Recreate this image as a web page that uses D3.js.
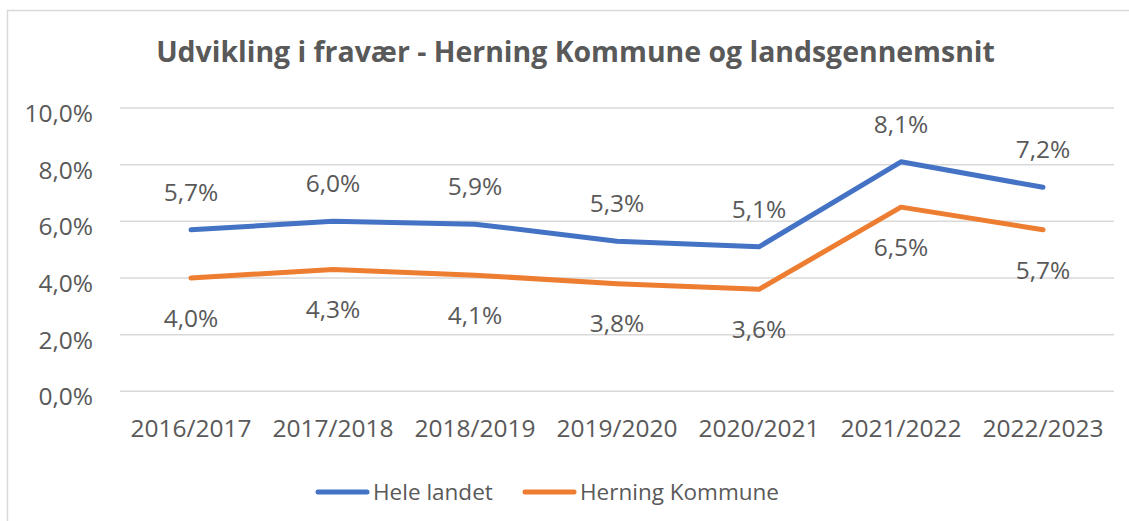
<!DOCTYPE html>
<html>
<head>
<meta charset="utf-8">
<script src="https://cdn.jsdelivr.net/npm/d3@7"></script>
<style>
  body { margin: 0; background: #fff; }
  text { font-family: "Open Sans", sans-serif; fill: #595959; }
</style>
</head>
<body>
<div id="chart"></div>
<script>
// data
var years = ["2016/2017", "2017/2018", "2018/2019", "2019/2020", "2020/2021", "2021/2022", "2022/2023"];
var heleLandet = [5.7, 6.0, 5.9, 5.3, 5.1, 8.1, 7.2];
var herning = [4.0, 4.3, 4.1, 3.8, 3.6, 6.5, 5.7];
var yTicks = [0, 2, 4, 6, 8, 10];
var seriesNames = ["Hele landet", "Herning Kommune"];
var colors = ["#4472C4", "#ED7D31"];

var width = 1129, height = 521;
var margin = {top: 108, right: 15, bottom: 130, left: 120};

var svg = d3.select("#chart")
  .append("svg")
    .attr("width", width)
    .attr("height", height);

// chart border (only left / top visible in the crop)
svg.append("rect")
    .attr("x", 7.5).attr("y", 10.5)
    .attr("width", 1140).attr("height", 540)
    .attr("fill", "none")
    .attr("stroke", "#d9d9d9")
    .attr("stroke-width", 1.5);

var x = d3.scaleBand()
    .domain(years)
    .range([margin.left, 1114]);

var y = d3.scaleLinear()
    .domain([0, 10])
    .range([391.3, margin.top]);

var fmt = function(v) { return d3.format(".1f")(v).replace(".", ",") + "%"; };

// title - fit to width from the picture
var title = svg.append("text")
    .attr("x", 575.5)
    .attr("y", 62)
    .attr("text-anchor", "middle")
    .style("font-weight", "bold")
    .style("font-size", "30px")
    .text("Udvikling i fravær - Herning Kommune og landsgennemsnit");
var tw = title.node().getComputedTextLength();
title.style("font-size", (30 * 839 / tw) + "px");

// gridlines
svg.append("g")
  .selectAll("line")
  .data(yTicks)
  .enter()
  .append("line")
    .attr("x1", margin.left)
    .attr("x2", 1114)
    .attr("y1", function(d) { return y(d); })
    .attr("y2", function(d) { return y(d); })
    .attr("stroke", "#d9d9d9")
    .attr("stroke-width", 1.5);

// y axis labels
svg.append("g")
  .selectAll("text")
  .data(yTicks)
  .enter()
  .append("text")
    .attr("x", 93)
    .attr("y", function(d) { return y(d) + 14; })
    .attr("text-anchor", "end")
    .style("font-size", "24.5px")
    .text(function(d) { return fmt(d); });

// x axis labels
svg.append("g")
  .selectAll("text")
  .data(years)
  .enter()
  .append("text")
    .attr("x", function(d) { return x(d) + x.bandwidth() / 2; })
    .attr("y", 437)
    .attr("text-anchor", "middle")
    .style("font-size", "24.5px")
    .text(function(d) { return d; });

var line = d3.line()
    .x(function(d, i) { return x(years[i]) + x.bandwidth() / 2; })
    .y(function(d) { return y(d); });

var series = [heleLandet, herning];
var labelOffset = [-38, 40];

series.forEach(function(vals, s) {
  svg.append("path")
      .datum(vals)
      .attr("fill", "none")
      .attr("stroke", colors[s])
      .attr("stroke-width", 5)
      .attr("stroke-linecap", "round")
      .attr("stroke-linejoin", "round")
      .attr("d", line);

  svg.append("g")
    .selectAll("text")
    .data(vals)
    .enter()
    .append("text")
      .attr("x", function(d, i) { return x(years[i]) + x.bandwidth() / 2; })
      .attr("y", function(d) { return y(d) + labelOffset[s] + 8.8; })
      .attr("text-anchor", "middle")
      .style("font-size", "24.5px")
      .text(function(d) { return fmt(d); });
});

// legend
var legendX = [318, 525];
var legend = svg.append("g")
  .selectAll("g")
  .data(seriesNames)
  .enter()
  .append("g")
    .attr("transform", function(d, i) { return "translate(" + legendX[i] + ",492)"; });

legend.append("line")
    .attr("x1", 0).attr("x2", 49)
    .attr("stroke", function(d, i) { return colors[i]; })
    .attr("stroke-width", 5)
    .attr("stroke-linecap", "round");

legend.append("text")
    .attr("x", 55)
    .attr("y", 7.5)
    .style("font-size", "22.5px")
    .text(function(d) { return d; });
</script>
</body>
</html>
